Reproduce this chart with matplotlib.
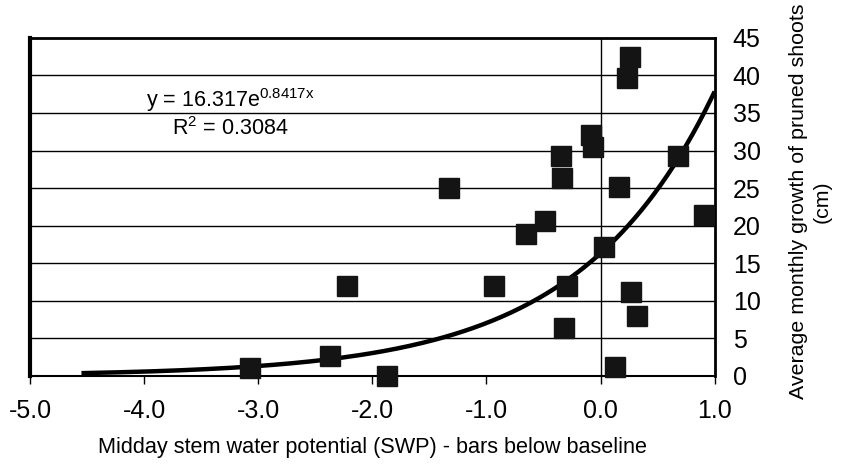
import numpy as np
import matplotlib.pyplot as plt

plt.rcParams["font.family"] = ["Liberation Sans", "DejaVu Sans"]
plt.rcParams["mathtext.fontset"] = "custom"
plt.rcParams["mathtext.rm"] = "Liberation Sans"
plt.rcParams["mathtext.default"] = "regular"

# stem water potential (bars below baseline) and monthly shoot growth (cm)
swp = [-3.07, -2.37, -2.22, -1.87, -1.33, -0.93, -0.65, -0.49, -0.35, -0.34,
       -0.08, -0.07, 0.23, 0.26, 0.16, 0.68, 0.91, 0.03, -0.29, 0.27, 0.32,
       -0.32, 0.13]
growth = [1.0, 2.6, 11.9, 0.0, 25.0, 11.9, 18.9, 20.6, 29.3, 26.3,
          32.1, 30.5, 39.6, 42.4, 25.1, 29.3, 21.4, 17.1, 11.9, 11.2, 8.0,
          6.3, 1.2]

# exponential trendline y = a * exp(b x)
fit_a = 16.317
fit_b = 0.8417
fit_range = (-4.55, 1.0)

x_ticks = [-5.0, -4.0, -3.0, -2.0, -1.0, 0.0, 1.0]
y_ticks = [0, 5, 10, 15, 20, 25, 30, 35, 40, 45]

fig = plt.figure(figsize=(8.61, 4.68), dpi=100)
ax = fig.add_axes([0.035, 0.197, 0.795, 0.722])

for yv in y_ticks[1:-1]:
    ax.axhline(yv, color="black", lw=1.0, zorder=1)
ax.axvline(0, color="black", lw=1.0, zorder=1)

xs = np.linspace(fit_range[0], fit_range[1], 200)
ax.plot(xs, fit_a * np.exp(fit_b * xs), color="black", lw=3.2, zorder=3,
        solid_capstyle="butt")
ax.plot(swp, growth, "s", color="#141414", markersize=14, zorder=4,
        clip_on=False)

ax.set_xlim(-5.0, 1.0)
ax.set_ylim(0, 45)
ax.set_xticks(x_ticks)
ax.set_xticklabels([f"{v:.1f}" for v in x_ticks])
ax.set_yticks(y_ticks)
ax.yaxis.tick_right()
ax.tick_params(axis="x", direction="out", length=6, width=1, pad=11,
               labelsize=18)
ax.tick_params(axis="y", length=0, pad=13, labelsize=18)

ax.spines["left"].set_linewidth(3.0)
ax.spines["top"].set_linewidth(2.0)
ax.spines["right"].set_linewidth(2.0)
ax.spines["bottom"].set_linewidth(1.5)

ax.set_xlabel("Midday stem water potential (SWP) - bars below baseline",
              fontsize=15.6, labelpad=10)

ax.text(-3.25, 35.0, "y = 16.317e$^{0.8417x}$\nR$^{2}$ = 0.3084",
        ha="center", va="center", multialignment="center", fontsize=15.5,
        linespacing=1.15)

fig.text(0.941, 0.57, "Average monthly growth of pruned shoots\n(cm)",
         rotation=90, ha="center", va="center", multialignment="center",
         fontsize=15.4, linespacing=1.3)

fig.savefig("out.png", dpi=100)
